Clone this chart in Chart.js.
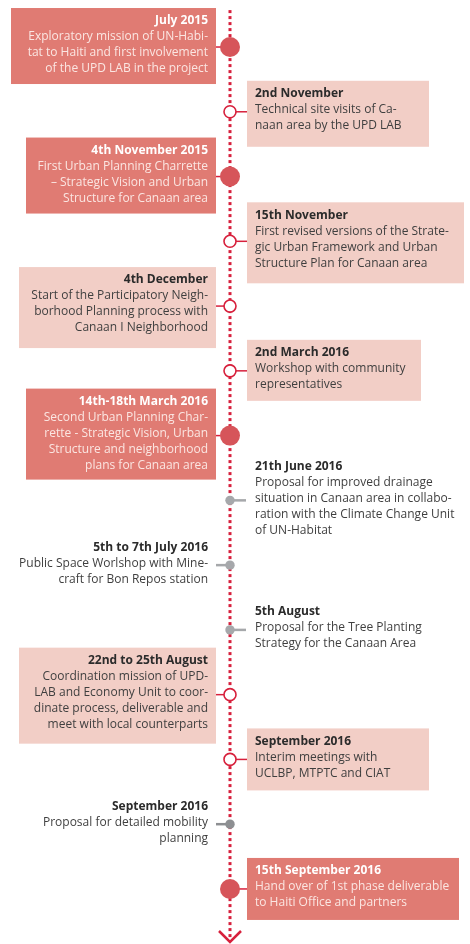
<!DOCTYPE html>
<html>
<head>
<meta charset="utf-8">
<script src="https://cdn.jsdelivr.net/npm/chart.js@4/dist/chart.umd.min.js"></script>
<style>
  html, body { margin: 0; padding: 0; background: #ffffff; }
  #wrap { width: 470px; height: 944px; }
</style>
</head>
<body>
<div id="wrap"><canvas id="c" width="470" height="944"></canvas></div>
<script>
// ---------- DATA ----------
const dates = [
  "July 2015", "2nd November", "4th November 2015", "15th November",
  "4th December", "2nd March 2016", "14th-18th March 2016", "21th June 2016",
  "5th to 7th July 2016", "5th August", "22nd to 25th August", "September 2016",
  "September 2016", "15th September 2016"
];
const details = [
  ["Exploratory mission of UN-Habi-", "tat to Haiti and first involvement", "of the UPD LAB in the project"],
  ["Technical site visits of Ca-", "naan area by the UPD LAB"],
  ["First Urban Planning Charrette", "– Strategic Vision and Urban", "Structure for Canaan area"],
  ["First revised versions of the Strate-", "gic Urban Framework and Urban", "Structure Plan for Canaan area"],
  ["Start of the Participatory Neigh-", "borhood Planning process with", "Canaan I Neighborhood"],
  ["Workshop with community", "representatives"],
  ["Second Urban Planning Char-", "rette - Strategic Vision, Urban", "Structure and neighborhood", "plans for Canaan area"],
  ["Proposal for improved drainage", "situation in Canaan area in collabo-", "ration with the Climate Change Unit", "of UN-Habitat"],
  ["Public Space Worlshop with Mine-", "craft for Bon Repos station"],
  ["Proposal for the Tree Planting", "Strategy for the Canaan Area"],
  ["Coordination mission of UPD-", "LAB and Economy Unit to coor-", "dinate process, deliverable and", "meet with local counterparts"],
  ["Interim meetings with", "UCLBP, MTPTC and CIAT"],
  ["Proposal for detailed mobility", "planning"],
  ["Hand over of 1st phase deliverable", "to Haiti Office and partners"]
];
const sides = ["L","R","L","R","L","R","L","R","L","R","L","R","L","R"];
const kinds = ["major","medium","major","medium","medium","medium","major","note","note","note","medium","medium","note","major"];
const sequence = [0,1,2,3,4,5,6,7,8,9,10,11,12,13];

// ---------- STYLE ----------
const FONT = '"Open Sans", "Noto Sans", sans-serif';
const FS = 12, LH = 16;
const C = {
  line: '#d7203c',
  majorBox: '#e07b73', majorDot: '#d6555a',
  mediumBox: '#f2cec6',
  noteDot: '#a6a8ab', noteDotDark: '#8d8f92',
  title: '#2b2b2b', body: '#3f3f3f',
  majorTitle: '#ffffff', majorBody: '#fbe6e2'
};
// box sizes (layout only), indexed by event
const boxW = {0:205, 1:182, 2:190, 3:217, 4:197, 5:174, 6:190, 10:197, 11:182, 13:212};
const boxH = {0:76, 1:66, 2:76, 3:81, 4:81, 5:61, 6:91, 10:96, 11:62, 13:62};

function pts(kind) {
  return sequence.filter(i => kinds[i] === kind).map(i => ({x: 0, y: i}));
}

const timelinePlugin = {
  id: 'timeline',
  beforeDatasetsDraw(chart) {
    const ctx = chart.ctx;
    const xs = chart.scales.x, ys = chart.scales.y;
    const cx = xs.getPixelForValue(0);
    ctx.save();
    sequence.forEach(i => {
      const cy = ys.getPixelForValue(i);
      const n = 1 + details[i].length;
      const first = cy - 2 - (n - 1) * LH / 2;
      const left = sides[i] === 'L';
      const kind = kinds[i];
      if (kind !== 'note') {
        const w = boxW[i], h = boxH[i];
        const top = first - 13;
        const bx = left ? cx - 14 - w : cx + 17;
        ctx.fillStyle = kind === 'major' ? C.majorBox : C.mediumBox;
        ctx.fillRect(bx, top, w, h);
        ctx.strokeStyle = C.line;
        ctx.lineWidth = 1.5;
        ctx.beginPath();
        if (left) { ctx.moveTo(cx - 14, cy); ctx.lineTo(cx, cy); }
        else { ctx.moveTo(cx, cy); ctx.lineTo(cx + 17, cy); }
        ctx.stroke();
      } else {
        ctx.strokeStyle = i === 12 ? C.noteDotDark : C.noteDot;
        ctx.lineWidth = 2.5;
        ctx.beginPath();
        if (left) { ctx.moveTo(cx - 14, cy); ctx.lineTo(cx, cy); }
        else { ctx.moveTo(cx, cy); ctx.lineTo(cx + 16, cy); }
        ctx.stroke();
      }
      const tx = left ? cx - 22 : cx + 25;
      ctx.textAlign = left ? 'right' : 'left';
      ctx.textBaseline = 'middle';
      ctx.font = 'bold ' + FS + 'px ' + FONT;
      ctx.fillStyle = kind === 'major' ? C.majorTitle : C.title;
      ctx.fillText(dates[i], tx, first);
      ctx.font = FS + 'px ' + FONT;
      ctx.fillStyle = kind === 'major' ? C.majorBody : C.body;
      details[i].forEach((ln, k) => ctx.fillText(ln, tx, first + (k + 1) * LH));
    });
    ctx.restore();
  },
  afterDatasetsDraw(chart) {
    const ctx = chart.ctx;
    const xs = chart.scales.x, ys = chart.scales.y;
    const cx = xs.getPixelForValue(0);
    const by = ys.getPixelForValue(ys.max) - 2;
    ctx.save();
    ctx.strokeStyle = C.line;
    ctx.lineWidth = 2.5;
    ctx.beginPath();
    ctx.moveTo(cx - 11, by - 11);
    ctx.lineTo(cx, by);
    ctx.lineTo(cx + 11, by - 11);
    ctx.stroke();
    ctx.restore();
  }
};

new Chart(document.getElementById('c'), {
  type: 'scatter',
  data: {
    datasets: [
      { label: 'major', data: pts('major'), pointRadius: 10, pointHoverRadius: 10,
        backgroundColor: C.majorDot, borderColor: C.majorDot, borderWidth: 0, order: 0 },
      { label: 'medium', data: pts('medium'), pointRadius: 6, pointHoverRadius: 6,
        backgroundColor: '#ffffff', borderColor: C.line, borderWidth: 1.6, order: 0 },
      { label: 'note', data: pts('note'), pointRadius: 4.7, pointHoverRadius: 4.7,
        backgroundColor: sequence.filter(i => kinds[i] === 'note').map(i => i === 12 ? C.noteDotDark : C.noteDot),
        borderWidth: 0, order: 0 },
      { type: 'line', label: 'axis', data: [{x: 0, y: -0.57}, {x: 0, y: 13.78}],
        borderColor: C.line, borderWidth: 3, borderDash: [3, 3], pointRadius: 0, order: 5 }
    ]
  },
  options: {
    responsive: false,
    devicePixelRatio: 1,
    animation: false,
    layout: { padding: 0, autoPadding: false },
    plugins: { legend: { display: false }, tooltip: { enabled: false } },
    scales: {
      x: { type: 'linear', display: false, min: -230, max: 240 },
      y: { type: 'linear', display: false, reverse: true, min: -0.726, max: 13.85 }
    }
  },
  plugins: [timelinePlugin]
});
</script>
</body>
</html>
